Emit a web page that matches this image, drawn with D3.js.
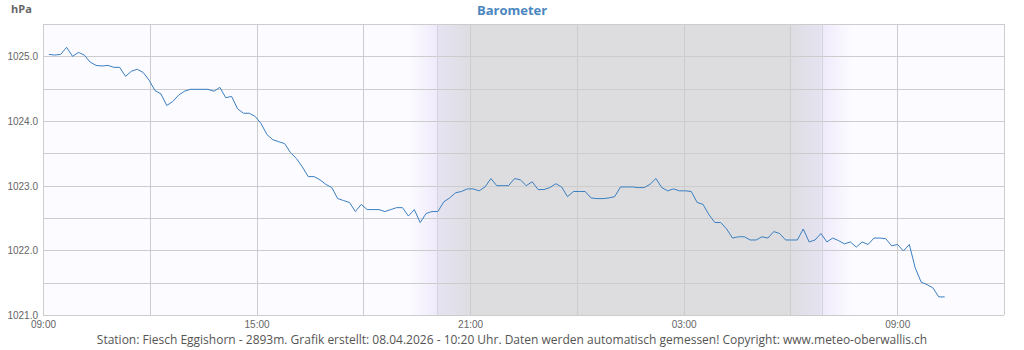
<!DOCTYPE html>
<html>
<head>
<meta charset="utf-8">
<script src="https://cdn.jsdelivr.net/npm/d3@7"></script>
<style>
  body { margin: 0; background: #fff; }
  svg { display: block; font-family: "Open Sans", "DejaVu Sans", sans-serif; }
</style>
</head>
<body>
<svg id="chart" width="1024" height="350"></svg>
<script>
// readings every ~10 min, 07.04.2026 09:10 .. 08.04.2026 10:20
const firstReading = new Date(2026, 3, 7, 9, 10);
const lastReading = new Date(2026, 3, 8, 10, 20);
const pressure = [
  1025.03, 1025.02, 1025.03, 1025.14, 1025.00, 1025.06, 1025.02, 1024.91, 1024.86, 1024.85,
  1024.86, 1024.83, 1024.83, 1024.69, 1024.77, 1024.80, 1024.75, 1024.63, 1024.47, 1024.42,
  1024.24, 1024.30, 1024.40, 1024.46, 1024.49, 1024.49, 1024.49, 1024.49, 1024.46, 1024.52,
  1024.36, 1024.38, 1024.19, 1024.12, 1024.12, 1024.07, 1023.96, 1023.79, 1023.71, 1023.68,
  1023.65, 1023.51, 1023.42, 1023.29, 1023.14, 1023.14, 1023.09, 1023.02, 1022.97, 1022.80,
  1022.77, 1022.74, 1022.60, 1022.71, 1022.63, 1022.63, 1022.63, 1022.60, 1022.63, 1022.66,
  1022.66, 1022.53, 1022.63, 1022.43, 1022.57, 1022.60, 1022.60, 1022.75, 1022.81, 1022.89,
  1022.91, 1022.95, 1022.95, 1022.92, 1022.98, 1023.11, 1023.00, 1023.00, 1023.00, 1023.11,
  1023.09, 1023.00, 1023.06, 1022.94, 1022.94, 1022.97, 1023.03, 1022.98, 1022.83, 1022.91,
  1022.91, 1022.91, 1022.81, 1022.80, 1022.80, 1022.81, 1022.83, 1022.98, 1022.98, 1022.98,
  1022.97, 1022.97, 1023.02, 1023.11, 1022.97, 1022.92, 1022.95, 1022.92, 1022.92, 1022.91,
  1022.74, 1022.71, 1022.55, 1022.43, 1022.43, 1022.33, 1022.19, 1022.21, 1022.21, 1022.16,
  1022.16, 1022.21, 1022.19, 1022.29, 1022.26, 1022.16, 1022.16, 1022.16, 1022.33, 1022.13,
  1022.16, 1022.26, 1022.13, 1022.19, 1022.15, 1022.10, 1022.13, 1022.05, 1022.13, 1022.09,
  1022.19, 1022.19, 1022.18, 1022.07, 1022.09, 1021.99, 1022.09, 1021.73, 1021.51, 1021.47,
  1021.42, 1021.28, 1021.28
];
const yTicks = [1021, 1022, 1023, 1024, 1025];
const xTickLabels = ["09:00", "15:00", "21:00", "03:00", "09:00"];

// daylight bands: [start, end, colour from, colour to]
const sunset = new Date(2026, 3, 7, 20, 4);
const sunrise = new Date(2026, 3, 8, 6, 53);
const nightBands = [
  [new Date(2026, 3, 7, 19, 18), sunset, "#fcfbff", "#efeafb"],
  [sunset, new Date(2026, 3, 7, 21, 0), "#e6e3f2", "#dedde2"],
  [new Date(2026, 3, 7, 21, 0), new Date(2026, 3, 8, 6, 0), "#dddde0", "#dddde0"],
  [new Date(2026, 3, 8, 6, 0), sunrise, "#dedde2", "#e6e3f2"],
  [sunrise, new Date(2026, 3, 8, 7, 42), "#efeafb", "#fcfbff"]
];

const margin = { top: 24, right: 20, bottom: 35, left: 43 };
const width = 1024, height = 350;
const svg = d3.select("#chart");

const start = new Date(2026, 3, 7, 9, 0);
const end = new Date(2026, 3, 8, 12, 0);
const x = d3.scaleTime().domain([start, end]).range([margin.left, width - margin.right]);
const y = d3.scaleLinear().domain([1021, 1025.5]).range([height - margin.bottom, margin.top]);

const step = (lastReading - firstReading) / (pressure.length - 1);
const data = pressure.map((v, i) => ({ t: new Date(+firstReading + i * step), v: v }));

// plot background
svg.append("rect")
  .attr("x", x.range()[0]).attr("y", y.range()[1])
  .attr("width", x.range()[1] - x.range()[0])
  .attr("height", y.range()[0] - y.range()[1])
  .attr("fill", "#fcfbff");

const defs = svg.append("defs");
nightBands.forEach((b, i) => {
  const g = defs.append("linearGradient").attr("id", "band" + i)
    .attr("x1", "0%").attr("x2", "100%").attr("y1", "0%").attr("y2", "0%");
  g.append("stop").attr("offset", "0%").attr("stop-color", b[2]);
  g.append("stop").attr("offset", "100%").attr("stop-color", b[3]);
  svg.append("rect")
    .attr("x", x(b[0])).attr("y", y.range()[1])
    .attr("width", x(b[1]) - x(b[0]))
    .attr("height", y.range()[0] - y.range()[1])
    .attr("fill", `url(#band${i})`);
});

// grid
const gridTimes = d3.timeHour.range(start, end, 3);
const grid = svg.append("g").attr("stroke", "#cccccc").attr("stroke-width", 1).attr("shape-rendering", "crispEdges");
grid.selectAll(".h").data(d3.range(1021, 1025.51, 0.5)).enter().append("line")
  .attr("x1", x.range()[0]).attr("x2", x.range()[1])
  .attr("y1", d => Math.round(y(d)) + 0.5).attr("y2", d => Math.round(y(d)) + 0.5);
grid.selectAll(".v").data(gridTimes).enter().append("line")
  .attr("x1", d => Math.round(x(d)) + 0.5).attr("x2", d => Math.round(x(d)) + 0.5)
  .attr("y1", y.range()[0]).attr("y2", y.range()[1]);
grid.append("line")
  .attr("x1", x.range()[1] + 0.5).attr("x2", x.range()[1] + 0.5)
  .attr("y1", y.range()[0]).attr("y2", y.range()[1]);
grid.selectAll(".sun").data([sunset, sunrise]).enter().append("line")
  .attr("stroke", "#d4d3dc")
  .attr("x1", d => Math.round(x(d)) + 0.5).attr("x2", d => Math.round(x(d)) + 0.5)
  .attr("y1", y.range()[0]).attr("y2", y.range()[1]);

// axes
const yAxis = svg.append("g")
  .attr("transform", `translate(${margin.left - 5},0)`)
  .call(d3.axisLeft(y).tickValues(yTicks).tickFormat(d3.format(".1f")).tickSize(0));
yAxis.select(".domain").remove();
yAxis.selectAll("text").attr("fill", "#666").style("font-size", "10px").attr("dy", "0.35em").attr("x", 0);

const xTicks = d3.timeHour.range(start, end, 6);
const xAxis = svg.append("g")
  .attr("transform", `translate(0,${height - margin.bottom})`)
  .call(d3.axisBottom(x).tickValues(xTicks).tickFormat((d, i) => xTickLabels[i]).tickSize(0));
xAxis.select(".domain").remove();
xAxis.selectAll("text").attr("fill", "#666").style("font-size", "10px").attr("y", 6);

// pressure line
svg.append("path")
  .datum(data)
  .attr("fill", "none")
  .attr("stroke", "#3a7fc1")
  .attr("stroke-width", 1)
  .attr("d", d3.line().x(d => x(d.t)).y(d => y(d.v)));

// titles
svg.append("text").attr("x", 512).attr("y", 15).attr("text-anchor", "middle")
  .attr("fill", "#4a86c0").style("font-size", "13px").style("font-weight", "bold").text("Barometer");
svg.append("text").attr("x", 11).attr("y", 13)
  .attr("fill", "#666").style("font-size", "11px").style("font-weight", "bold").text("hPa");
svg.append("text").attr("x", 512).attr("y", 344).attr("text-anchor", "middle")
  .attr("fill", "#555").style("font-size", "12px")
  .text("Station: Fiesch Eggishorn - 2893m. Grafik erstellt: 08.04.2026 - 10:20 Uhr. Daten werden automatisch gemessen! Copyright: www.meteo-oberwallis.ch");
</script>
</body>
</html>
